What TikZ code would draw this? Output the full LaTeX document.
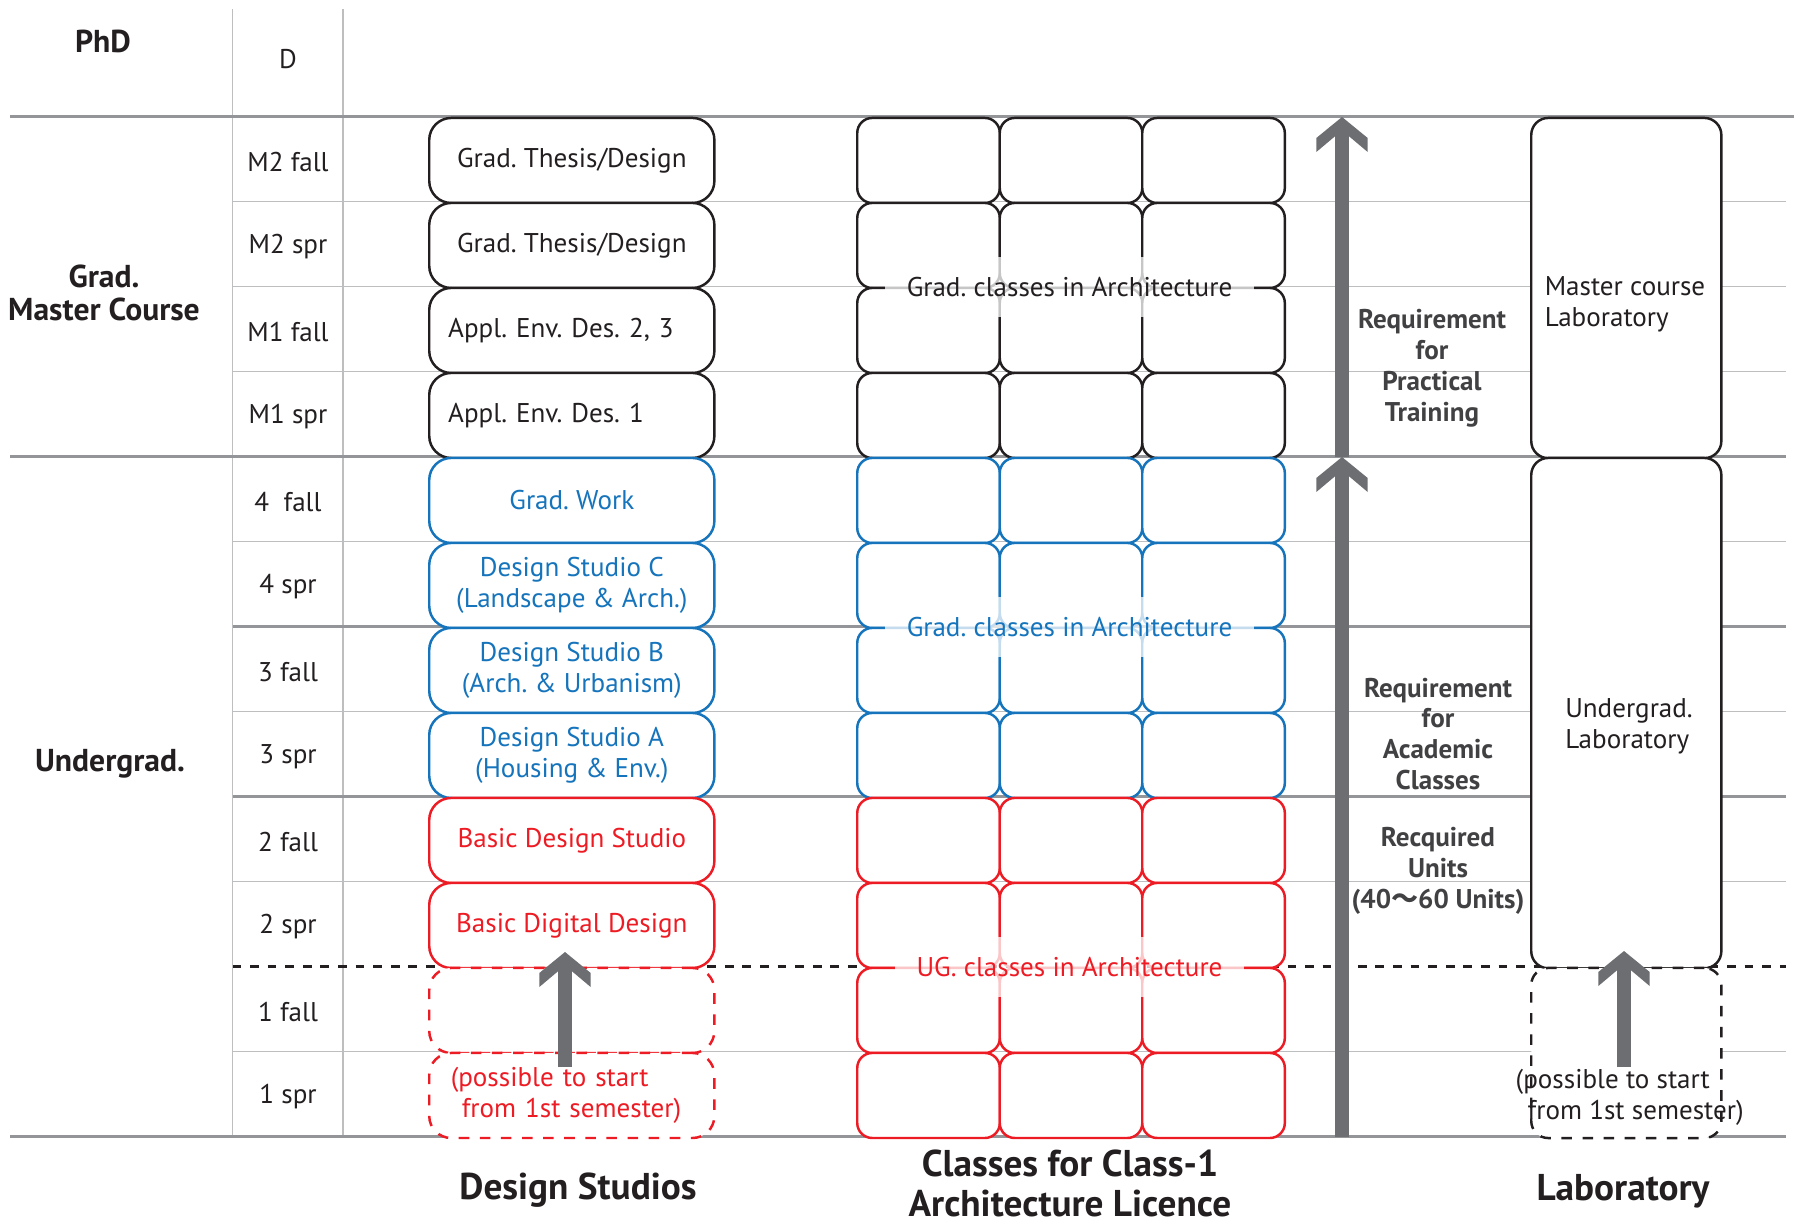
\documentclass[tikz,border=0pt]{standalone}
\usepackage{fontspec}
\setmainfont{PT Sans}
\newfontfamily\cjk{Noto Sans CJK JP}
\usetikzlibrary{arrows.meta,backgrounds}
\frenchspacing
\definecolor{txtblack}{HTML}{231F20}
\definecolor{studioblue}{HTML}{1574BB}
\definecolor{studiored}{HTML}{ED1C24}
\definecolor{arrowgray}{HTML}{6D6E71}
\definecolor{linegray}{HTML}{BCBEC0}
\definecolor{rulegray}{HTML}{939598}
\definecolor{reqgray}{HTML}{414042}
\newcommand\celltext{\fontsize{7.7pt}{8.8pt}\selectfont}
\newcommand\grouptext{\fontsize{9pt}{9.4pt}\selectfont\bfseries}
\newcommand\captext{\fontsize{10.6pt}{11.4pt}\selectfont\bfseries}
% broad chevron head of the grey arrows
\pgfdeclarearrow{
  name = Chevron,
  setup code = {
    \pgfarrowssettipend{0pt}
    \pgfarrowssetlineend{-0.18cm}
    \pgfarrowssetvisualbackend{-0.35cm}
    \pgfarrowssetbackend{-0.35cm}
    \pgfarrowshullpoint{0pt}{0pt}
    \pgfarrowshullpoint{-0.35cm}{0.257cm}
    \pgfarrowshullpoint{-0.35cm}{-0.257cm}
  },
  drawing code = {
    \pgfpathmoveto{\pgfpoint{0pt}{0pt}}
    \pgfpathlineto{\pgfpoint{-0.21cm}{0.257cm}}
    \pgfpathlineto{\pgfpoint{-0.35cm}{0.257cm}}
    \pgfpathlineto{\pgfpoint{-0.195cm}{0.073cm}}
    \pgfpathlineto{\pgfpoint{-0.195cm}{-0.073cm}}
    \pgfpathlineto{\pgfpoint{-0.35cm}{-0.257cm}}
    \pgfpathlineto{\pgfpoint{-0.21cm}{-0.257cm}}
    \pgfpathclose
    \pgfusepathqfill
  }
}
\tikzset{
  thinrule/.style={linegray,line width=0.4pt},
  thickrule/.style={rulegray,line width=0.9pt},
  dashrule/.style={txtblack,line width=0.7pt,dash pattern=on 2.5pt off 2.5pt},
  studiobox/.style={draw=#1,text=#1,fill=white,rounded corners=0.22cm,line width=0.7pt,
    minimum width=2.85cm,minimum height=0.85cm,inner sep=0pt,anchor=north west,
    align=center,font=\celltext},
  classbox/.style={draw=#1,fill=white,rounded corners=0.15cm,line width=0.7pt,
    minimum width=1.425cm,minimum height=0.85cm,inner sep=0pt,anchor=north west},
  labbox/.style={draw=txtblack,fill=white,rounded corners=0.17cm,line width=0.7pt,
    minimum width=1.9cm,minimum height=#1,inner sep=0pt,anchor=north west},
  classtag/.style={text=#1,fill=white,fill opacity=0.75,text opacity=1,
    inner xsep=0.22cm,minimum height=0.6cm,font=\celltext},
  reqtext/.style={text=reqgray,align=center,font=\celltext\bfseries},
  bigarrow/.style={arrowgray,line width=0.146cm,-Chevron}
}
\begin{document}
\begin{tikzpicture}[x=0.01cm,y=-0.01cm,text=txtblack]
\useasboundingbox (0,0) rectangle (1794,1223);

% table rules
\draw[thinrule] (232.5,9) -- (232.5,1136.7);
\draw[thinrule] (343,9) -- (343,1136.7);
\foreach \i in {1,2,3,5,7,9,11}
  \draw[thinrule] (232.5,{116.7+85*\i}) -- (1786,{116.7+85*\i});
\draw[thickrule] (10,116.7) -- (1794,116.7);
\draw[thickrule] (10,456.7) -- (1786,456.7);
\draw[thickrule] (232.5,626.7) -- (1786,626.7);
\draw[thickrule] (232.5,796.7) -- (1786,796.7);
\draw[thickrule] (10,1136.7) -- (1786,1136.7);
\draw[dashrule] (232.5,966.7) -- (1786,966.7);

% group and semester labels
\node[font=\grouptext] (phd) at (103,41) {PhD};
\node[font=\grouptext,align=center] (master) at (104,293) {Grad.\\Master Course};
\node[font=\grouptext] (ug) at (110,764) {Undergrad.};
\node[font=\celltext] (sem-d) at (288,59) {D};
\foreach \i/\t in {0/M2 fall,1/M2 spr,2/M1 fall,3/M1 spr,4/4\ \ fall,5/4 spr,
    6/3 fall,7/3 spr,8/2 fall,9/2 spr,10/1 fall,11/1 spr}
  \node[font=\celltext] (sem-\i) at (288,{116.7+85*\i+45}) {\t};

% design studios
\node[studiobox=txtblack] (ds-0) at (428,116.7) {Grad. Thesis/Design};
\node[studiobox=txtblack] (ds-1) at (428,201.7) {Grad. Thesis/Design};
\node[studiobox=txtblack,text width=2.47cm,align=left] (ds-2) at (428,286.7) {Appl. Env. Des. 2, 3};
\node[studiobox=txtblack,text width=2.47cm,align=left] (ds-3) at (428,371.7) {Appl. Env. Des. 1};
\node[studiobox=studioblue] (ds-4) at (428,456.7) {Grad. Work};
\node[studiobox=studioblue] (ds-5) at (428,541.7) {Design Studio C\\(Landscape \& Arch.)};
\node[studiobox=studioblue] (ds-6) at (428,626.7) {Design Studio B\\(Arch. \& Urbanism)};
\node[studiobox=studioblue] (ds-7) at (428,711.7) {Design Studio A\\(Housing \& Env.)};
\node[studiobox=studiored] (ds-8) at (428,796.7) {Basic Design Studio};
\node[studiobox=studiored] (ds-9) at (428,881.7) {Basic Digital Design};
\node[studiobox=studiored,dashed] (ds-10) at (428,966.7) {};
\node[studiobox=studiored,dashed,text width=2.42cm,align=left] (ds-11) at (428,1051.7)
  {(possible to start\\\hspace{0.11cm}from 1st semester)};
\coordinate (ds-from) at (565,1067);
\coordinate (ds-to) at (565,952);
\draw[bigarrow] (ds-from) -- (ds-to);

% class grid
\foreach \j in {0,1,2}{
  \foreach \i in {0,...,3}
    \node[classbox=txtblack] (cl-\i-\j) at ({856+142.5*\j},{116.7+85*\i}) {};
  \foreach \i in {4,...,7}
    \node[classbox=studioblue] (cl-\i-\j) at ({856+142.5*\j},{116.7+85*\i}) {};
  \foreach \i in {8,...,11}
    \node[classbox=studiored] (cl-\i-\j) at ({856+142.5*\j},{116.7+85*\i}) {};
}
\node[classtag=txtblack] (tag-grad) at (1069.5,286.7) {Grad. classes in Architecture};
\node[classtag=studioblue] (tag-ug4) at (1069.5,626.7) {Grad. classes in Architecture};
\node[classtag=studiored] (tag-ug2) at (1069.5,966.7) {UG. classes in Architecture};

% requirement arrows
\coordinate (req-low) at (1342,1136.7);
\coordinate (req-mid) at (1342,457);
\coordinate (req-top) at (1342,117);
\draw[bigarrow] (req-low) -- (req-mid);
\draw[bigarrow] (req-mid) -- (req-top);
\node[reqtext] (req-prac) at (1432,368) {Requirement\\for\\Practical\\Training};
\node[reqtext] (req-acad) at (1438,734) {Requirement\\for\\Academic\\Classes};
\node[reqtext] (req-unit) at (1438,871) {Recquired\\Units\\(40{\cjk ～}60 Units)};

% laboratory
\node[labbox=3.4cm] (lab-m) at (1530,116.7) {};
\node[labbox=5.1cm] (lab-u) at (1530,456.7) {};
\node[labbox=1.7cm,dashed] (lab-1) at (1530,966.7) {};
\node[font=\celltext,align=left] (lab-m-txt) at (1625,304) {Master course\\Laboratory};
\node[font=\celltext,align=left] (lab-u-txt) at (1629,726) {Undergrad.\\Laboratory};
\node[font=\celltext,align=left,anchor=west,inner sep=0pt] (lab-1-txt) at (1515,1097)
  {(possible to start\\\hspace{0.12cm}from 1st semester)};
\coordinate (lab-from) at (1624,1067);
\coordinate (lab-to) at (1624,951);
\draw[bigarrow] (lab-from) -- (lab-to);

% column captions
\node[font=\captext] (cap-ds) at (578,1190) {Design Studios};
\node[font=\captext,align=center,inner sep=0pt] (cap-cl) at (1070,1183) {Classes for Class-1\\Architecture Licence};
\node[font=\captext] (cap-lab) at (1623,1191) {Laboratory};
\end{tikzpicture}
\end{document}
